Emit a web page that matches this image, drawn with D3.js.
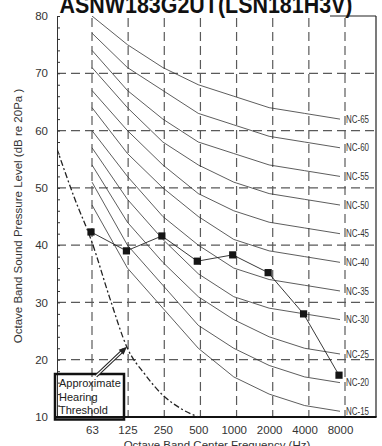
<!DOCTYPE html>
<html><head><meta charset="utf-8">
<script src="https://cdn.jsdelivr.net/npm/d3@7"></script>
<style>
body{margin:0;background:#fff}
svg{display:block}
text{font-family:"Liberation Sans",Arial,Helvetica,sans-serif}
</style>
</head><body>
<svg id="c" width="382" height="446"></svg>
<script>
// ---- data ----
const title = "ASNW183G2UT(LSN181H3V)";
const freqLabels = ["63","125","250","500","1000","2000","4000","8000"];
const yTickValues = [10,20,30,40,50,60,70,80];
const ncNames = ["NC-15","NC-20","NC-25","NC-30","NC-35","NC-40","NC-45","NC-50","NC-55","NC-60","NC-65"];
const nc15 = [47,36,29,22,17,14,12,11];
const nc20 = [51,40,33,26,22,19,17,16];
const nc25 = [54,44,37,31,27,24,22,21];
const nc30 = [57,48,41,35,31,29,28,27];
const nc35 = [60,52,45,40,36,34,33,32];
const nc40 = [64,56,50,45,41,39,38,37];
const nc45 = [67,60,54,49,46,44,43,42];
const nc50 = [71,64,58,54,51,49,48,47];
const nc55 = [74,67,62,58,56,54,53,52];
const nc60 = [77,71,67,63,61,59,58,57];
const nc65 = [80,75,71,68,66,64,63,62];
const measured = [42.3,39.0,41.6,37.2,38.3,35.2,28.0,17.3];
// hearing threshold: position in octaves from 63 Hz, level in dB
const thresholdOct = [-1,-0.5,0,0.5,1,1.5,2,2.5,3];
const thresholdDb  = [57,48.3,40.5,30.8,22.0,17.4,13.8,11.5,10];
const legendLines = ["Approximate","Hearing","Threshold"];
const xTitle = "Octave Band Center Frequency (Hz)";
const yTitle = "Octave Band Sound Pressure Level (dB re 20Pa )";

// ---- layout ----
const svg = d3.select("#c");
const L = 57, R = 376, T = 16, B = 417;
const y = d3.scaleLinear().domain([10,80]).range([B,T]);
const x = d3.scaleLinear().domain([0,7]).range([92,340]);      // data / labels
const xg = d3.scaleLinear().domain([0,7]).range([92,345]);     // dashed grid
const idx = d3.range(freqLabels.length);

// grid
const gridC = "#5a5a5a";
svg.append("g").selectAll("line").data(yTickValues.filter(v=>v>10&&v<80)).join("line")
  .attr("x1",L).attr("x2",R).attr("y1",d=>y(d)).attr("y2",d=>y(d))
  .attr("stroke",gridC).attr("stroke-width",1.2).attr("stroke-dasharray","9,5");
svg.append("g").selectAll("line").data(idx).join("line")
  .attr("x1",d=>xg(d)).attr("x2",d=>xg(d)).attr("y1",T+2).attr("y2",B)
  .attr("stroke",gridC).attr("stroke-width",1.2).attr("stroke-dasharray","9,5");

// frame
svg.append("line").attr("x1",R).attr("x2",R).attr("y1",T).attr("y2",B).attr("stroke","#222").attr("stroke-width",1.2);
svg.append("line").attr("x1",330).attr("x2",R).attr("y1",T).attr("y2",T).attr("stroke","#222").attr("stroke-width",1.2);

// left axis (minor ticks inside + labels)
const ax = svg.append("g").attr("transform",`translate(${L},0)`)
  .call(d3.axisLeft(y).tickValues(d3.range(10,81,2)).tickSize(-3).tickFormat(""));
ax.select(".domain").attr("stroke","#333").attr("stroke-width",1);
ax.selectAll(".tick line").attr("stroke","#333");
const axl = svg.append("g").attr("transform",`translate(${L},0)`)
  .call(d3.axisLeft(y).tickValues(yTickValues).tickSize(0).tickPadding(9));
axl.select(".domain").remove();
axl.selectAll("text").attr("font-size",11.5).attr("fill","#333").attr("font-family","Liberation Sans, Arial");

// bottom axis
const bx = svg.append("g").attr("transform",`translate(0,${B})`)
  .call(d3.axisBottom(x).tickValues(idx).tickFormat(i=>freqLabels[i]).tickSize(0).tickPadding(9));
bx.select(".domain").remove();
bx.selectAll("text").attr("font-size",11.5).attr("fill","#333").attr("font-family","Liberation Sans, Arial");
svg.append("line").attr("x1",L-1).attr("x2",R+0.6).attr("y1",B).attr("y2",B).attr("stroke","#111").attr("stroke-width",2.2);

// NC curves
const ncCurves = [nc15,nc20,nc25,nc30,nc35,nc40,nc45,nc50,nc55,nc60,nc65];
const clipId = "plotclip";
svg.append("clipPath").attr("id",clipId).append("rect").attr("x",L).attr("y",T).attr("width",R-L).attr("height",B-T);
const line = d3.line().x((d,i)=>x(i)).y(d=>y(d));
const gc = svg.append("g").attr("clip-path",`url(#${clipId})`);
gc.selectAll("path.nc").data(ncCurves).join("path").attr("class","nc")
  .attr("d",line).attr("fill","none").attr("stroke","#333").attr("stroke-width",0.8);
svg.append("g").selectAll("text").data(ncCurves).join("text")
  .attr("x",x(7)+6).attr("y",d=>y(d[7])+3.6)
  .attr("font-size",10).attr("fill","#333")
  .attr("textLength",23).attr("lengthAdjust","spacingAndGlyphs")
  .text((d,i)=>ncNames[i]);

// hearing threshold
const thr = thresholdOct.map((o,i)=>[o,thresholdDb[i]]);
gc.append("path").datum(thr)
  .attr("d",d3.line().x(d=>x(d[0])).y(d=>y(d[1])).curve(d3.curveMonotoneX))
  .attr("fill","none").attr("stroke","#222").attr("stroke-width",1.3)
  .attr("stroke-dasharray","6,2.5,2,2.5");

// measured series
svg.append("path").datum(measured)
  .attr("d",d3.line().x((d,i)=>x(i)-1).y(d=>y(d)))
  .attr("fill","none").attr("stroke","#222").attr("stroke-width",0.9);
svg.append("g").selectAll("rect").data(measured).join("rect")
  .attr("x",(d,i)=>x(i)-1-3.6).attr("y",d=>y(d)-3.6).attr("width",7.2).attr("height",7.2)
  .attr("fill","#151515");

// legend box
svg.append("rect").attr("x",55).attr("y",374).attr("width",69).attr("height",45.5)
  .attr("fill","none").attr("stroke","#111").attr("stroke-width",2.5);
svg.append("g").selectAll("text").data(legendLines).join("text")
  .attr("x",59).attr("y",(d,i)=>387+i*13.5).attr("font-size",11).attr("fill","#222").text(d=>d);

// arrow (hollow double-line)
const a0=[96,376], a1=[124,349.5];
svg.append("line").attr("x1",a0[0]).attr("y1",a0[1]).attr("x2",a1[0]).attr("y2",a1[1]).attr("stroke","#222").attr("stroke-width",3.2);
svg.append("line").attr("x1",a0[0]).attr("y1",a0[1]).attr("x2",a1[0]-1).attr("y2",a1[1]+1).attr("stroke","#fff").attr("stroke-width",1.1);
{
  const ang=Math.atan2(a1[1]-a0[1],a1[0]-a0[0]);
  const tip=[a1[0]+4*Math.cos(ang),a1[1]+4*Math.sin(ang)];
  const bl=[tip[0]-8*Math.cos(ang)+3.5*Math.sin(ang), tip[1]-8*Math.sin(ang)-3.5*Math.cos(ang)];
  const br=[tip[0]-8*Math.cos(ang)-3.5*Math.sin(ang), tip[1]-8*Math.sin(ang)+3.5*Math.cos(ang)];
  svg.append("path").attr("d",`M${tip}L${bl}L${br}Z`).attr("fill","#222");
}

// titles
svg.append("text").attr("x",206).attr("y",13).attr("text-anchor","middle")
  .attr("font-size",24).attr("font-weight","bold").attr("fill","#111")
  .attr("textLength",293).attr("lengthAdjust","spacingAndGlyphs").text(title);
svg.append("text").attr("x",217).attr("y",449).attr("text-anchor","middle")
  .attr("font-size",11.5).attr("fill","#333").text(xTitle);
svg.append("text").attr("transform","translate(22,216) rotate(-90)").attr("text-anchor","middle")
  .attr("font-size",11.5).attr("fill","#333").text(yTitle);
</script>
</body></html>
